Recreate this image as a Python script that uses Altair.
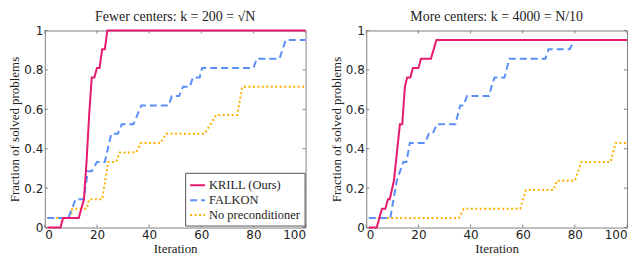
import altair as alt
import pandas as pd

series_names = ["KRILL (Ours)", "FALKON", "No preconditioner"]
series_colors = ["#E5196E", "#5B8FF9", "#FFB000"]
series_dashes = [[1, 0], [7, 4], [2, 2.5]]

x_ticks = [0, 20, 40, 60, 80, 100]
y_ticks = [0, 0.2, 0.4, 0.6, 0.8, 1]

# Left panel: fewer centers
krill_left_x = [1, 6, 7, 13, 14, 15, 16, 17, 18, 19, 20, 21, 22, 23, 24, 100]
krill_left_y = [0, 0, 0.048, 0.048, 0.095, 0.143, 0.333, 0.571, 0.762, 0.762, 0.810, 0.810, 0.905, 0.905, 1.0, 1.0]
falkon_left_x = [1, 9, 11.8, 14.9, 16.5, 18, 20, 23, 25.5, 28, 29.5, 34, 37, 47.5, 48.7, 51.5, 53, 55.6, 56.8, 59.4, 60.3, 80, 81.3, 90, 92.4, 100]
falkon_left_y = [0.048, 0.048, 0.143, 0.143, 0.286, 0.286, 0.333, 0.333, 0.476, 0.476, 0.524, 0.524, 0.619, 0.619, 0.667, 0.667, 0.714, 0.714, 0.762, 0.762, 0.810, 0.810, 0.857, 0.857, 0.952, 0.952]
noprec_left_x = [1, 10, 10.5, 16, 17, 22, 24.3, 27.4, 28.7, 35, 36.8, 44.4, 46.5, 61.3, 65.7, 73.8, 75.7, 100]
noprec_left_y = [0.048, 0.048, 0.095, 0.095, 0.143, 0.143, 0.333, 0.333, 0.381, 0.381, 0.429, 0.429, 0.476, 0.476, 0.571, 0.571, 0.714, 0.714]

# Right panel: more centers
krill_right_x = [1, 4, 6, 7.3, 8.3, 9, 10.6, 12.9, 13.8, 14.8, 15.7, 16.9, 17.9, 20, 21, 24.8, 26.9, 100]
krill_right_y = [0, 0, 0.095, 0.095, 0.143, 0.143, 0.238, 0.524, 0.524, 0.714, 0.762, 0.762, 0.810, 0.810, 0.857, 0.857, 0.952, 0.952]
falkon_right_x = [1, 9.2, 11.7, 14.2, 15.4, 16.7, 22.5, 24, 25.5, 27, 34.2, 36, 37.3, 38.6, 47.1, 48, 49.2, 53, 54.9, 68.7, 69.9, 78, 79]
falkon_right_y = [0.048, 0.048, 0.238, 0.333, 0.333, 0.429, 0.429, 0.476, 0.476, 0.524, 0.524, 0.619, 0.619, 0.667, 0.667, 0.714, 0.762, 0.762, 0.857, 0.857, 0.905, 0.905, 0.93]
noprec_right_x = [1, 35.5, 37.4, 59, 61.2, 71.8, 73.1, 80, 82.5, 93.7, 95.6, 100]
noprec_right_y = [0.048, 0.048, 0.095, 0.095, 0.190, 0.190, 0.238, 0.238, 0.333, 0.333, 0.429, 0.429]

FRAME = "#808080"
W, H = 262, 198


def make_df(krill, falkon, noprec):
    rows = []
    for name, (xs, ys) in zip(["No preconditioner", "FALKON", "KRILL (Ours)"], [noprec, falkon, krill]):
        for a, b in zip(xs, ys):
            rows.append({"iter": a, "frac": b, "series": name})
    return pd.DataFrame(rows)


def panel(title, df, show_legend):
    xs = alt.Scale(domain=[0, 100], nice=False, zero=False)
    ys = alt.Scale(domain=[0, 1], nice=False)
    xax = alt.Axis(values=x_ticks, tickCount=20, title="Iteration", format="d", labelOverlap=False)
    yax = alt.Axis(values=y_ticks, tickCount=20, title="Fraction of solved problems", format="~g",
                   labelOverlap=False)
    if show_legend:
        leg = alt.Legend(orient="none", legendX=W - 121, legendY=H - 55, title=None)
    else:
        leg = None
    lines = alt.Chart(df).mark_line(strokeWidth=2, clip=False).encode(
        x=alt.X("iter:Q", scale=xs, axis=xax),
        y=alt.Y("frac:Q", scale=ys, axis=yax),
        color=alt.Color("series:N", scale=alt.Scale(domain=series_names, range=series_colors), legend=leg),
        strokeDash=alt.StrokeDash("series:N", scale=alt.Scale(domain=series_names, range=series_dashes), legend=leg),
    )
    xt = pd.DataFrame({"v": x_ticks})
    yt = pd.DataFrame({"v": y_ticks})
    bottom = alt.Chart(xt).mark_rule(color=FRAME, strokeWidth=1).encode(
        x=alt.X("v:Q", scale=xs, axis=xax), y=alt.datum(0), y2=alt.datum(0.015))
    top = alt.Chart(xt).mark_rule(color=FRAME, strokeWidth=1).encode(
        x=alt.X("v:Q", scale=xs, axis=xax), y=alt.datum(1), y2=alt.datum(0.985))
    left = alt.Chart(yt).mark_rule(color=FRAME, strokeWidth=1).encode(
        y=alt.Y("v:Q", scale=ys, axis=yax), x=alt.datum(0), x2=alt.datum(1.15))
    right = alt.Chart(yt).mark_rule(color=FRAME, strokeWidth=1).encode(
        y=alt.Y("v:Q", scale=ys, axis=yax), x=alt.datum(100), x2=alt.datum(98.85))
    return alt.layer(bottom, top, left, right, lines).properties(
        width=W, height=H, title=alt.TitleParams(title, anchor="middle"))


left_df = make_df((krill_left_x, krill_left_y), (falkon_left_x, falkon_left_y), (noprec_left_x, noprec_left_y))
right_df = make_df((krill_right_x, krill_right_y), (falkon_right_x, falkon_right_y), (noprec_right_x, noprec_right_y))

chart = alt.hconcat(
    panel("Fewer centers: k = 200 = √N", left_df, True),
    panel("More centers: k = 4000 = N/10", right_df, False),
    spacing=61, bounds="flush",
).resolve_scale(color="independent", strokeDash="independent").resolve_legend(
    color="independent", strokeDash="independent"
).properties(padding=0, background="white").configure_view(
    stroke=FRAME, strokeWidth=1
).configure_axis(
    domain=False, ticks=False, grid=False, labelOverlap=False,
    labelFont="DejaVu Sans", labelFontSize=12, labelColor="#222222", labelPadding=2,
    titleFont="Liberation Serif", titleFontSize=13, titleFontWeight="normal", titleColor="#222222", titlePadding=2,
).configure_title(
    font="Liberation Serif", fontSize=14, fontWeight="normal", color="#222222", offset=1
).configure_legend(
    strokeColor="#555555", fillColor="white", padding=4, cornerRadius=0,
    labelFont="Liberation Serif", labelFontSize=12.5, labelColor="#222222", labelOffset=3,
    symbolType="stroke", symbolSize=225, symbolStrokeWidth=2, rowPadding=0,
)

chart.save("out.html", embed_options={"renderer": "svg", "actions": False})
